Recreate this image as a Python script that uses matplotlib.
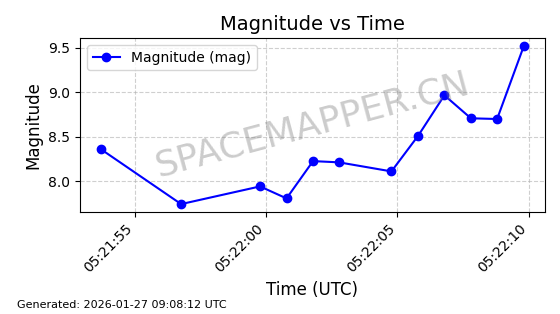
import matplotlib
matplotlib.use("Agg")
import matplotlib.pyplot as plt
import matplotlib.dates as mdates
import pandas as pd

times = ["05:21:53.70", "05:21:56.75", "05:21:59.76", "05:22:00.77", "05:22:01.78",
         "05:22:02.77", "05:22:04.77", "05:22:05.79", "05:22:06.79", "05:22:07.80",
         "05:22:08.80", "05:22:09.82"]
magnitudes = [8.357, 7.741, 7.940, 7.805, 8.225, 8.211, 8.109, 8.511, 8.966, 8.707, 8.699, 9.522]

t = pd.to_datetime(["2026-01-27 " + s for s in times])

fig = plt.figure(figsize=(5.6, 3.14), dpi=100)
ax = fig.add_axes([80/560, 1 - 212/314, (545-80)/560, (212-38)/314])
ax.plot(t, magnitudes, color="blue", marker="o", linestyle="-", label="Magnitude (mag)")
ax.set_title("Magnitude vs Time", fontsize=14)
ax.set_xlabel("Time (UTC)", fontsize=12)
ax.set_ylabel("Magnitude", fontsize=12)
ax.grid(True, linestyle="--", alpha=0.6)
ax.legend(loc="upper left")
ax.xaxis.set_major_locator(mdates.SecondLocator(bysecond=range(0, 60, 5)))
ax.xaxis.set_major_formatter(mdates.DateFormatter("%H:%M:%S"))
plt.setp(ax.get_xticklabels(), rotation=45, ha="right")
ax.text(0.5, 0.5, "SPACEMAPPER.CN", transform=ax.transAxes, fontsize=26,
        color="gray", alpha=0.4, ha="center", va="center", rotation=15)
fig.text(0.03, 0.02, "Generated: 2026-01-27 09:08:12 UTC", fontsize=8)
fig.savefig("out.png", dpi=100)
